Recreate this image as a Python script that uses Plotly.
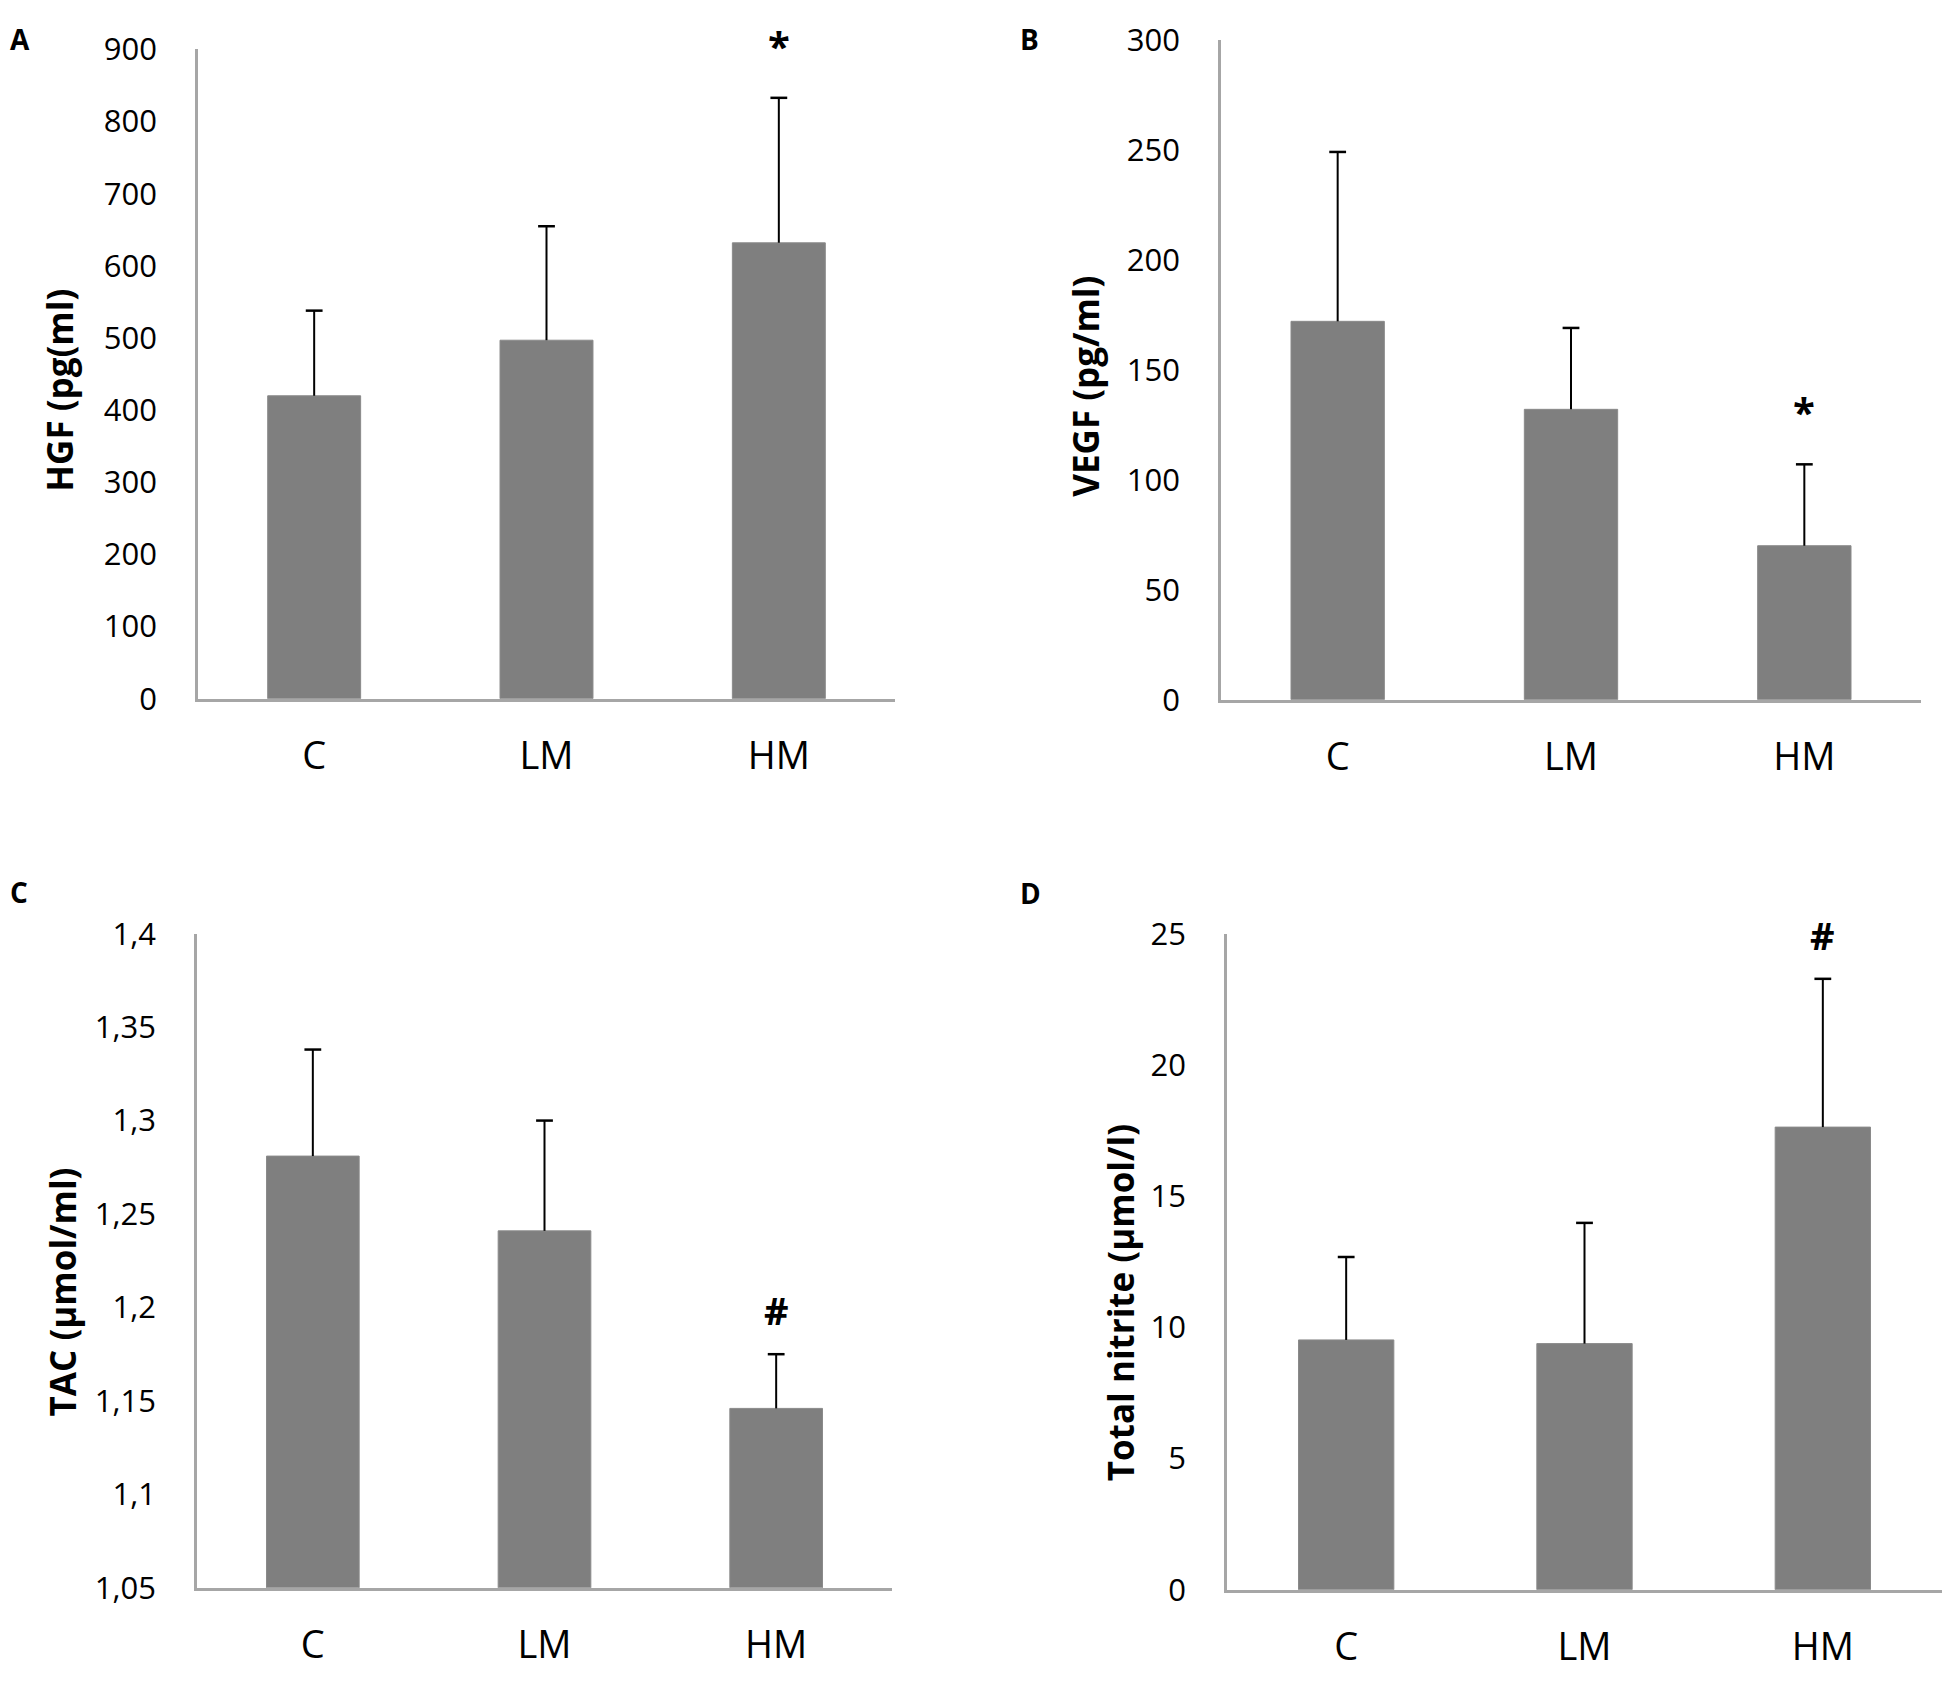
import plotly.graph_objects as go

# groups on the x axis
groups = ["C", "LM", "HM"]

# values (mean and upper error bar)
hgf_mean = [420, 497, 632]
hgf_err = [118, 158, 201]

vegf_mean = [172, 132, 70]
vegf_err = [77, 37, 37]

tac_mean = [1.281, 1.241, 1.146]
tac_err = [0.057, 0.059, 0.029]

nitrite_mean = [9.52, 9.38, 17.63]
nitrite_err = [3.16, 4.60, 5.65]

# significance marks per group
hgf_marks = ["", "", "*"]
vegf_marks = ["", "", "*"]
tac_marks = ["", "", "#"]
nitrite_marks = ["", "", "#"]

# the page body keeps its default 8px margin, so the figure is made
# 16px smaller than the 1950x1686 window and all positions are shifted
PAGE_W, PAGE_H = 1950, 1686
PAD = 8
W, H = PAGE_W - 2 * PAD, PAGE_H - 2 * PAD
FONT = "Open Sans"
BAR_COLOR = "#7f7f7f"
AXIS_COLOR = "#a6a6a6"


def px_x(v):
    return (v - PAD) / W


def px_y(v):
    return 1 - (v - PAD) / H


panels = [
    dict(mean=hgf_mean, err=hgf_err, marks=hgf_marks, title="HGF (pg(ml)", letter="A",
         yrange=[0, 900], dtick=100, xdom=(198, 895), ydom=(28, 694),
         title_pos=(60, 378), letter_pos=(8, 17)),
    dict(mean=vegf_mean, err=vegf_err, marks=vegf_marks, title="VEGF (pg/ml)", letter="B",
         yrange=[0, 300], dtick=50, xdom=(1221, 1921), ydom=(18, 695),
         title_pos=(1086, 374), letter_pos=(1018, 17)),
    dict(mean=tac_mean, err=tac_err, marks=tac_marks, title="TAC (µmol/ml)", letter="C",
         yrange=[1.05, 1.4], dtick=0.05, xdom=(197, 892), ydom=(935, 1606),
         title_pos=(62, 1303), letter_pos=(8, 892)),
    dict(mean=nitrite_mean, err=nitrite_err, marks=nitrite_marks, title="Total nitrite (µmol/l)",
         letter="D", yrange=[0, 25], dtick=5, xdom=(1227, 1942), ydom=(935, 1608),
         title_pos=(1120, 1314), letter_pos=(1018, 893)),
]

fig = go.Figure()
annotations = []

for i, p in enumerate(panels, start=1):
    xa = "x" if i == 1 else f"x{i}"
    ya = "y" if i == 1 else f"y{i}"
    sfx = "" if i == 1 else str(i)

    fig.add_trace(go.Bar(
        x=groups, y=p["mean"], xaxis=xa, yaxis=ya,
        marker=dict(color=BAR_COLOR, line=dict(color="#8a8a8a", width=1)),
        width=0.4, showlegend=False, hoverinfo="skip",
    ))

    # upward-only error bars: stem from bar top to mean+err, cap on top
    stem_x, stem_y = [], []
    for g, m, e in zip(groups, p["mean"], p["err"]):
        stem_x += [g, g, None]
        stem_y += [m, m + e, None]
    fig.add_trace(go.Scatter(
        x=stem_x, y=stem_y, xaxis=xa, yaxis=ya, mode="lines",
        line=dict(color="black", width=2), showlegend=False, hoverinfo="skip",
        cliponaxis=False,
    ))
    fig.add_trace(go.Scatter(
        x=groups, y=[m + e for m, e in zip(p["mean"], p["err"])], xaxis=xa, yaxis=ya,
        mode="markers",
        marker=dict(symbol="line-ew", size=12, line=dict(color="black", width=2.5)),
        showlegend=False, hoverinfo="skip", cliponaxis=False,
    ))

    for g, m, e, mk in zip(groups, p["mean"], p["err"], p["marks"]):
        if mk:
            annotations.append(dict(
                x=g, y=m + e, xref=xa, yref=ya, text=f"<b>{mk}</b>", showarrow=False,
                xanchor="center", yanchor="bottom",
                yshift=23 if mk == "*" else 16,
                font=dict(family=FONT, size=40 if mk == "*" else 38, color="black"),
            ))

    fig.update_layout(**{
        f"xaxis{sfx}": dict(
            domain=[px_x(p["xdom"][0]), px_x(p["xdom"][1])], anchor=ya,
            showline=True, linecolor=AXIS_COLOR, linewidth=2.5,
            showgrid=False, zeroline=False, ticks="", ticklabelstandoff=22,
            tickfont=dict(family=FONT, size=38, color="black"),
            fixedrange=True,
        ),
        f"yaxis{sfx}": dict(
            domain=[px_y(p["ydom"][1]), px_y(p["ydom"][0])], anchor=xa,
            range=p["yrange"], dtick=p["dtick"], tick0=p["yrange"][0],
            showline=True, linecolor=AXIS_COLOR, linewidth=2.5,
            showgrid=False, zeroline=False, ticks="", ticklabelstandoff=32,
            tickfont=dict(family=FONT, size=31, color="black"),
            fixedrange=True,
        ),
    })

    annotations.append(dict(
        x=px_x(p["title_pos"][0]), y=px_y(p["title_pos"][1]), xref="paper", yref="paper",
        text=f"<b>{p['title']}</b>", textangle=-90, showarrow=False,
        xanchor="center", yanchor="middle",
        font=dict(family=FONT, size=35, color="black"),
    ))
    annotations.append(dict(
        x=px_x(p["letter_pos"][0]), y=px_y(p["letter_pos"][1]), xref="paper", yref="paper",
        text=f"<b>{p['letter']}</b>", showarrow=False,
        xanchor="left", yanchor="middle",
        font=dict(family=FONT, size=28, color="black"),
    ))

fig.update_layout(
    width=W, height=H,
    margin=dict(l=0, r=0, t=0, b=0),
    paper_bgcolor="white", plot_bgcolor="white",
    separators=", ",
    annotations=annotations,
    font=dict(family=FONT, color="black"),
)

fig.write_html("out.html")
